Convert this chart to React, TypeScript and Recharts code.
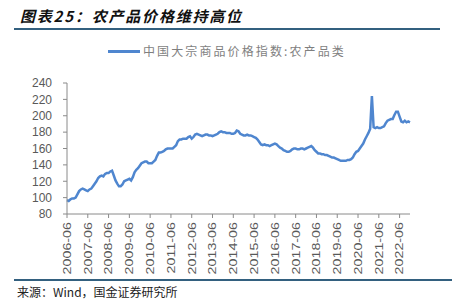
import { LineChart, Line, XAxis, YAxis } from "recharts"

// 中国大宗商品价格指数:农产品类, monthly, 2006-06 .. 2022-12
const agriIndex = [
  97, 96, 98, 99, 99, 100, 104, 108, 110, 111, 110, 109,
  108, 110, 111, 114, 117, 120, 124, 126, 127, 126, 129, 130,
  130, 132, 133, 127, 121, 117, 114, 114, 116, 120, 121, 122,
  123, 121, 125, 131, 134, 136, 139, 142, 143, 144, 144, 142,
  142, 142, 144, 146, 151, 155, 155, 156, 157, 159, 160, 160,
  160, 160, 162, 164, 169, 171, 171, 172, 172, 172, 174, 175,
  172, 174, 177, 178, 177, 176, 175, 176, 177, 177, 176, 176,
  175, 176, 177, 178, 180, 181, 180, 180, 179, 179, 179, 178,
  178, 179, 182, 181, 178, 177, 176, 176, 177, 176, 176, 175,
  174, 173, 171, 168, 165, 164, 165, 164, 164, 163, 164, 165,
  166, 165, 163, 161, 160, 158, 157, 156, 156, 157, 159, 160,
  160, 159, 159, 160, 160, 159, 160, 161, 162, 163, 161, 158,
  156, 154, 154, 153, 153, 152, 152, 151, 150, 149, 149, 148,
  147, 146, 145, 145, 145, 145, 146, 146, 147, 149, 153, 156,
  157, 160, 163, 166, 171, 175, 179, 184, 224, 186, 185, 186,
  185, 185, 186, 187, 191, 194, 195, 196, 196, 201, 205, 205,
  199, 193, 192, 194, 192, 193, 192,
]

const months = agriIndex.map((_, i) => {
  const t = 5 + i
  const year = 2006 + Math.floor(t / 12)
  const month = (t % 12) + 1
  return `${year}-${String(month).padStart(2, "0")}`
})

const xTicks = [
  "2006-06", "2007-06", "2008-06", "2009-06", "2010-06", "2011-06",
  "2012-06", "2013-06", "2014-06", "2015-06", "2016-06", "2017-06",
  "2018-06", "2019-06", "2020-06", "2021-06", "2022-06",
]

const yTicks = [80, 100, 120, 140, 160, 180, 200, 220, 240]

const data = months.map((month, i) => ({ month, value: agriIndex[i] }))

const LINE_COLOR = "#4F86CF"
const RULE_COLOR = "#33607f"
const AXIS_COLOR = "#8a8a8a"
const LABEL_COLOR = "#595959"
const CJK = '"Noto Sans CJK SC", "Noto Sans", sans-serif'
const LATIN = '"Liberation Sans", Arial, sans-serif'

function RotatedTick({ x, y, payload }: any) {
  return (
    <g transform={`translate(${x},${y}) rotate(-90)`}>
      <text
        x={0}
        y={0}
        dy="0.35em"
        textAnchor="end"
        fill={LABEL_COLOR}
        fontSize={11}
        fontFamily={LATIN}
        transform="scale(1.3,1)"
      >
        {payload.value}
      </text>
    </g>
  )
}

export default function App() {
  return (
    <div style={{ position: "absolute", left: 0, top: 0, width: 452, height: 299, background: "#fff", overflow: "hidden" }}>
      <div
        style={{
          position: "absolute", left: 20, top: 7, fontSize: 15, lineHeight: "18px",
          fontWeight: 700, fontStyle: "italic", letterSpacing: 1.8, fontFamily: CJK, color: "#111",
          whiteSpace: "nowrap",
        }}
      >
        图表25：农产品价格维持高位
      </div>
      <div style={{ position: "absolute", left: 14, top: 28, width: 426, height: 2, background: RULE_COLOR }} />

      {/* legend */}
      <div style={{ position: "absolute", left: 108, top: 50, width: 32, height: 3, background: LINE_COLOR }} />
      <div
        style={{
          position: "absolute", left: 143, top: 43, fontSize: 12, lineHeight: "16px",
          letterSpacing: 2.1, fontFamily: CJK, color: "#7f7f7f", whiteSpace: "nowrap",
        }}
      >
        中国大宗商品价格指数:农产品类
      </div>

      <div style={{ position: "absolute", left: 0, top: 0 }}>
        <LineChart width={452} height={299} data={data} margin={{ top: 83, right: 42, bottom: 25, left: 0 }}>
          <XAxis
            dataKey="month"
            scale="point"
            ticks={xTicks}
            interval={0}
            height={60}
            tick={<RotatedTick />}
            tickSize={4}
            tickMargin={4}
            axisLine={{ stroke: AXIS_COLOR }}
            tickLine={{ stroke: AXIS_COLOR }}
          />
          <YAxis
            type="number"
            domain={[80, 240]}
            ticks={yTicks}
            interval={0}
            width={67}
            tickSize={4}
            tickMargin={11}
            axisLine={{ stroke: AXIS_COLOR }}
            tickLine={{ stroke: AXIS_COLOR }}
            tick={{ fill: LABEL_COLOR, fontSize: 12, fontFamily: LATIN }}
          />
          <Line
            type="linear"
            dataKey="value"
            stroke={LINE_COLOR}
            strokeWidth={2.5}
            dot={false}
            isAnimationActive={false}
          />
        </LineChart>
      </div>

      <div style={{ position: "absolute", left: 14, top: 279, width: 438, height: 2, background: RULE_COLOR }} />
      <div
        style={{
          position: "absolute", left: 17, top: 284, fontSize: 12, lineHeight: "16px",
          fontFamily: CJK, color: "#222", whiteSpace: "nowrap",
        }}
      >
        来源：Wind，国金证券研究所
      </div>
    </div>
  )
}
